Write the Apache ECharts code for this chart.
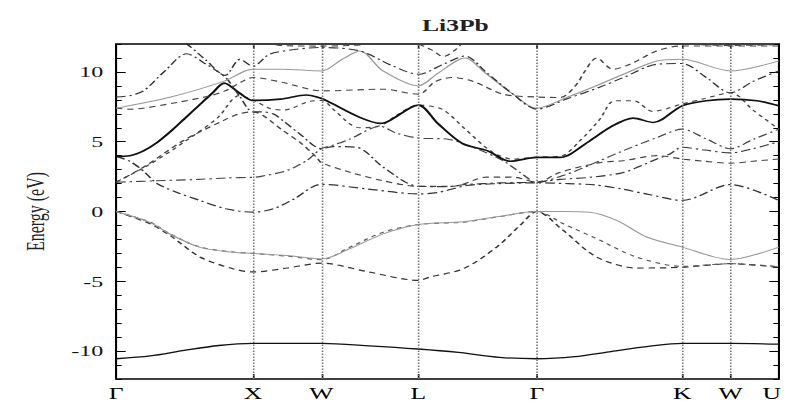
<!DOCTYPE html>
<html>
<head>
<meta charset="utf-8">
<script src="https://cdn.jsdelivr.net/npm/echarts@6/dist/echarts.min.js"></script>
<style>
html,body{margin:0;padding:0;background:#fff;overflow:hidden;}
#c{width:491px;height:403px;transform:scaleX(1.6008);transform-origin:0 0;}
</style>
</head>
<body>
<div id="c"></div>
<script>
// k-path positions of high-symmetry points and their labels
const kpos = [0, 1, 1.5, 2.207, 3.073, 4.134, 4.487, 4.841];
const klabels = ['Γ', 'X', 'W', 'L', 'Γ', 'K', 'W', 'U'];
const yMajor = [-10, -5, 0, 5, 10];

// bands: [k, E(eV)]
const band1 = [[0,-10.55],[0.25,-10.35],[0.5,-9.95],[0.75,-9.6],[1,-9.45],[1.5,-9.45],[1.85,-9.62],[2.207,-9.85],[2.5,-10.1],[2.8,-10.45],[3.073,-10.55],[3.35,-10.4],[3.6,-10.05],[3.9,-9.65],[4.134,-9.45],[4.487,-9.45],[4.841,-9.5]];
const band2 = [[0,0],[0.248,-0.88],[0.394,-1.71],[0.613,-3.26],[0.854,-4.1],[1,-4.33],[1.25,-4.05],[1.5,-3.7],[1.83,-4.3],[2.207,-4.93],[2.29,-4.7],[2.536,-4.1],[2.78,-2.55],[2.95,-1.0],[3.073,0],[3.266,-1.36],[3.51,-3.26],[3.8,-4.05],[4.134,-4.0],[4.487,-3.74],[4.841,-4.0]];
const band3 = [[0,0],[0.248,-0.76],[0.394,-1.6],[0.613,-2.55],[0.854,-2.9],[1,-3.0],[1.25,-3.2],[1.5,-3.45],[1.709,-2.55],[1.952,-1.48],[2.207,-0.93],[2.536,-0.76],[2.78,-0.4],[3.073,0],[3.266,-0.88],[3.51,-1.95],[3.8,-3.26],[4.134,-3.93],[4.487,-3.74],[4.841,-3.95]];
const band4 = [[0,0],[0.248,-0.78],[0.394,-1.62],[0.613,-2.57],[0.854,-2.92],[1,-3.0],[1.25,-3.15],[1.5,-3.4],[1.709,-2.65],[1.952,-1.6],[2.207,-0.93],[2.536,-0.74],[2.78,-0.38],[3.073,0],[3.266,0],[3.46,-0.05],[3.656,-0.64],[3.875,-1.83],[4.134,-2.55],[4.487,-3.43],[4.841,-2.55]];
const band5 = [[0,3.95],[0.1,3.6],[0.2,2.9],[0.3,2.0],[0.45,1.35],[0.613,0.79],[0.8,0.2],[1,-0.05],[1.15,0.2],[1.3,0.9],[1.5,1.95],[1.83,1.62],[2.207,1.26],[2.36,1.38],[2.56,1.86],[2.8,2.0],[3.073,2.05],[3.3,2.0],[3.5,1.9],[3.7,1.6],[3.9,1.2],[4.134,0.79],[4.487,1.93],[4.841,0.79]];
const band6 = [[0,2.1],[0.3,2.2],[0.6,2.3],[0.8,2.4],[1,2.45],[1.05,2.5],[1.246,2.93],[1.392,3.65],[1.5,4.5],[1.6,4.8],[1.709,5.2],[1.928,6.1],[2.05,5.6],[2.207,5.26],[2.414,5.19],[2.56,4.79],[2.827,3.64],[2.95,2.8],[3.073,2.1],[3.3,2.7],[3.5,3.5],[3.705,4.36],[3.95,5.3],[4.134,5.9],[4.31,5.2],[4.487,4.5],[4.66,5.2],[4.841,5.9]];
const band7 = [[0,2.1],[0.2,3.17],[0.49,5.07],[0.78,6.5],[0.9,7.0],[1,7.14],[1.076,6.86],[1.22,5.79],[1.343,4.95],[1.465,3.88],[1.5,3.5],[1.709,2.81],[1.952,2.2],[2.207,1.8],[2.463,1.81],[2.706,2.46],[2.9,2.46],[3.073,2.1],[3.24,2.8],[3.53,3.5],[3.705,3.64],[3.95,4.0],[4.134,3.76],[4.3,3.6],[4.487,3.46],[4.65,3.6],[4.841,3.76]];
const band8 = [[0,2.1],[0.25,3.4],[0.5,5.0],[0.74,6.7],[0.9,8.3],[1,8.0],[1.12,7.4],[1.22,7.26],[1.416,7.9],[1.5,7.95],[1.6,7.2],[1.709,6.26],[1.78,6.0],[1.93,6.15],[2.05,6.9],[2.207,7.62],[2.38,7.33],[2.55,5.9],[2.75,4.24],[2.9,3.75],[3.073,3.9],[3.242,3.95],[3.388,5.07],[3.534,6.62],[3.64,7.93],[3.78,7.93],[3.92,7.17],[4.134,7.7],[4.3,8.1],[4.487,8.5],[4.66,7.2],[4.841,5.9]];
const band9 = [[0,3.95],[0.1,4.0],[0.2,4.35],[0.3,4.95],[0.4,5.75],[0.5,6.65],[0.6,7.55],[0.7,8.45],[0.79,9.2],[0.9,8.5],[1,7.96],[1.2,8.05],[1.39,8.35],[1.5,8.1],[1.5625,7.81],[1.78,6.74],[1.928,6.31],[2.207,7.62],[2.35,6.3],[2.534,4.84],[2.71,4.36],[2.88,3.6],[3.073,3.88],[3.24,3.88],[3.461,5.07],[3.607,6.03],[3.777,6.69],[3.923,6.38],[4.134,7.57],[4.31,7.93],[4.487,8.05],[4.68,7.93],[4.841,7.57]];
const band10 = [[0,8.2],[0.1,8.3],[0.2,8.64],[0.35,10.0],[0.516,11.3],[0.65,10.6],[0.8,9.6],[0.9,8.3],[1,7.14],[1.07,7.14],[1.15,6.98],[1.22,6.5],[1.343,5.55],[1.5,4.5],[1.587,4.65],[1.757,4.6],[1.952,3.17],[2.207,1.8],[2.4,1.78],[2.56,1.93],[2.8,2.05],[3.073,2.1],[3.24,2.3],[3.461,2.45],[3.705,2.8],[3.95,3.76],[4.045,4.12],[4.134,4.6],[4.3,4.4],[4.487,4.2],[4.65,4.5],[4.841,5.0]];
const band11 = [[0,7.4],[0.1,7.33],[0.443,7.81],[0.686,8.29],[0.796,8.64],[0.93,9.36],[1,9.6],[1.222,9.24],[1.5,8.64],[1.952,8.76],[2.207,8.4],[2.33,9.3],[2.45,9.6],[2.6,9.35],[2.83,8.4],[3.073,8.2],[3.242,8.17],[3.364,9.12],[3.42,10.0],[3.51,11.0],[3.63,10.19],[3.753,10.55],[3.948,11.5],[4.134,11.86],[4.487,11.86],[4.841,11.86]];
const band12 = [[0,7.4],[0.4,8.2],[0.796,9.36],[1,10.2],[1.2,10.2],[1.5,10.07],[1.65,10.9],[1.78,11.5],[1.95,10.07],[2.207,9.0],[2.35,9.9],[2.548,11.0],[2.7,9.9],[2.9,8.4],[3.073,7.4],[3.3,8.2],[3.53,9.1],[3.705,9.83],[3.95,10.78],[4.134,10.9],[4.487,10.07],[4.841,10.79]];
const band13 = [[0,13.5],[0.3,13.2],[0.516,12.0],[0.65,10.9],[0.796,9.75],[0.905,10.9],[1,10.4],[1.12,11.26],[1.3,11.6],[1.5,11.75],[1.78,11.5],[2.02,10.43],[2.207,9.83],[2.4,10.6],[2.548,11.14],[2.7,10.0],[2.9,8.4],[3.073,7.33],[3.3,8.1],[3.53,8.9],[3.705,9.6],[3.95,10.55],[4.134,10.6],[4.31,9.6],[4.487,8.5],[4.66,9.36],[4.841,10.07]];
const band14 = [[0,14],[0.6,13.5],[1,12.5],[1.2,11.9],[1.5,11.85],[1.8,11.95],[2.1,12.3],[2.3,11.6],[2.39,11.1],[2.48,11.6],[2.6,12.6],[3.073,13.5],[3.6,13],[4.134,12.05],[4.487,11.9],[4.841,11.95]];

const bands = [band1,band2,band3,band4,band5,band6,band7,band8,band9,band10,band11,band12,band13,band14];

// line styles per band
const DASH = [4, 3];
const DASHDOT = [6, 2.5, 1.5, 2.5];
const bandStyles = [
  {color:'#111', width:1.3, type:'solid'},
  {color:'#333', width:1.2, type:DASH},
  {color:'#555', width:1.1, type:[3,3]},
  {color:'#999', width:1.0, type:'solid'},
  {color:'#333', width:1.2, type:DASHDOT},
  {color:'#444', width:1.1, type:DASHDOT},
  {color:'#444', width:1.1, type:DASH},
  {color:'#444', width:1.1, type:[3,3]},
  {color:'#111', width:1.6, type:'solid'},
  {color:'#333', width:1.1, type:DASHDOT},
  {color:'#444', width:1.1, type:DASH},
  {color:'#999', width:1.0, type:'solid'},
  {color:'#333', width:1.1, type:DASHDOT},
  {color:'#444', width:1.1, type:DASH}
];

const yMinor = [];
for (let v = -12; v <= 12; v++) yMinor.push(v);

const serif = 'Liberation Serif';
const chart = echarts.init(document.getElementById('c'), null, {renderer:'svg'});

const kLabel = v => {
  const i = kpos.findIndex(p => Math.abs(p - v) < 1e-6);
  if (i < 0) return '';
  return i === kpos.length - 1 ? '{edge|' + klabels[i] + '}' : klabels[i];
};

const series = bands.map((b, i) => ({
  type:'line', data:b, showSymbol:false, smooth:0.3, clip:true,
  lineStyle:bandStyles[i], z:3, silent:true
}));
series[0].markLine = {
  silent:true, symbol:['none','none'], label:{show:false},
  lineStyle:{type:[1.5,1.5], color:'#777', width:1},
  data: kpos.slice(1, -1).map(v => ({xAxis:v}))
};

const yAxisBase = {type:'value', min:-12, max:12, splitLine:{show:false}, axisLine:{show:false, onZero:false}};
const xAxisBase = {type:'value', min:0, max:4.841, splitLine:{show:false}, axisLine:{show:false, onZero:false}};

chart.setOption({
  animation:false,
  title:{text:'Li3Pb', left:279.5, top:13, textAlign:'center',
    textStyle:{fontFamily:serif, fontWeight:'bold', fontSize:16, color:'#222'}},
  grid:{left:72.5, right:4.4, top:44, bottom:24, show:true, borderColor:'#000', borderWidth:1.3,
    containLabel:false, outerBoundsMode:'none'},
  xAxis:[
    Object.assign({}, xAxisBase, {position:'bottom',
      axisTick:{inside:true, length:5, customValues:kpos, lineStyle:{color:'#000'}},
      axisLabel:{customValues:kpos, formatter:kLabel, margin:7, fontFamily:serif, fontSize:16, color:'#000',
        rich:{edge:{fontFamily:serif, fontSize:16, color:'#000', padding:[0,9,0,0]}}}}),
    Object.assign({}, xAxisBase, {position:'top',
      axisTick:{inside:true, length:5, customValues:kpos, lineStyle:{color:'#000'}},
      axisLabel:{show:false}})
  ],
  yAxis:[
    Object.assign({}, yAxisBase, {position:'left', name:'Energy (eV)', nameLocation:'middle', nameGap:42,
      nameTextStyle:{fontFamily:serif, fontSize:16, color:'#222'},
      axisTick:{inside:true, length:6, customValues:yMajor, lineStyle:{color:'#000'}},
      axisLabel:{customValues:yMajor, margin:8, fontFamily:serif, fontSize:15, color:'#111'}}),
    Object.assign({}, yAxisBase, {position:'left',
      axisTick:{inside:true, length:3.5, customValues:yMinor, lineStyle:{color:'#000'}},
      axisLabel:{show:false}}),
    Object.assign({}, yAxisBase, {position:'right',
      axisTick:{inside:true, length:6, customValues:yMajor, lineStyle:{color:'#000'}},
      axisLabel:{show:false}}),
    Object.assign({}, yAxisBase, {position:'right',
      axisTick:{inside:true, length:3.5, customValues:yMinor, lineStyle:{color:'#000'}},
      axisLabel:{show:false}})
  ],
  series:series
});
</script>
</body>
</html>
